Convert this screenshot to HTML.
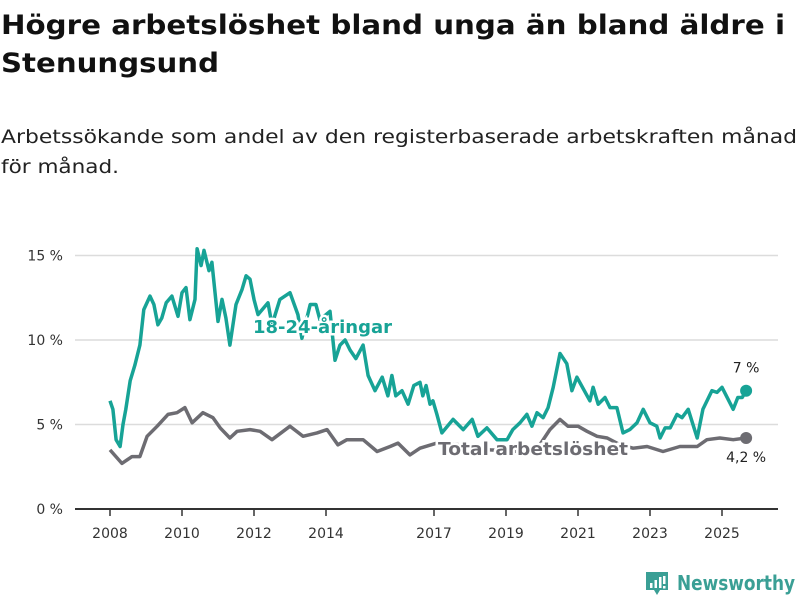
<!DOCTYPE html>
<html><head><meta charset="utf-8"><style>
html,body{margin:0;padding:0;background:#fff;width:800px;height:600px;overflow:hidden}
svg text{font-family:"DejaVu Sans","Liberation Sans",sans-serif}
</style></head><body>
<svg id="chart" width="800" height="600" viewBox="0 0 800 600" xmlns="http://www.w3.org/2000/svg">
<text x="1" y="34" font-size="27" font-weight="bold" fill="#111" textLength="784" lengthAdjust="spacingAndGlyphs">Högre arbetslöshet bland unga än bland äldre i</text>
<text x="1" y="72" font-size="27" font-weight="bold" fill="#111" textLength="218" lengthAdjust="spacingAndGlyphs">Stenungsund</text>
<text x="1" y="143" font-size="19" fill="#222" textLength="796" lengthAdjust="spacingAndGlyphs">Arbetssökande som andel av den registerbaserade arbetskraften månad</text>
<text x="1" y="173" font-size="19" fill="#222" textLength="118" lengthAdjust="spacingAndGlyphs">för månad.</text>
<g id="grid"></g>
<g id="xaxis"></g>
<g id="series"></g>
<g id="labels"></g>
<g>
<path d="M646 572h22v18h-8l-3 5-3-5h-8z" fill="#3a9f95"/>
<rect x="650" y="583" width="2.5" height="5" fill="#fff"/><rect x="654.5" y="580" width="2.5" height="8" fill="#fff"/><rect x="659" y="577" width="2.5" height="11" fill="#fff"/><rect x="663" y="576" width="2.5" height="8" fill="#fff"/><rect x="663" y="586" width="2.5" height="2.5" fill="#fff"/>
<text x="677" y="590" font-size="20" font-weight="bold" fill="#3a9f95" textLength="118" lengthAdjust="spacingAndGlyphs">Newsworthy</text>
</g>
</svg>
<script>
const yTicks = [0, 5, 10, 15];
const yTickLabels = ["0 %", "5 %", "10 %", "15 %"];
const xTicks = [2008, 2010, 2012, 2014, 2017, 2019, 2021, 2023, 2025];
const youthDates = [2008.00,2008.08,2008.17,2008.28,2008.36,2008.44,2008.56,2008.69,2008.83,2008.94,2009.11,2009.22,2009.33,2009.44,2009.56,2009.72,2009.89,2010.00,2010.11,2010.22,2010.36,2010.42,2010.53,2010.61,2010.75,2010.83,2011.00,2011.11,2011.22,2011.33,2011.50,2011.67,2011.78,2011.89,2012.00,2012.11,2012.39,2012.50,2012.72,2013.00,2013.22,2013.33,2013.56,2013.72,2013.83,2014.11,2014.25,2014.39,2014.53,2014.67,2014.83,2015.03,2015.17,2015.36,2015.56,2015.72,2015.83,2015.94,2016.11,2016.28,2016.44,2016.61,2016.69,2016.78,2016.89,2016.97,2017.08,2017.22,2017.53,2017.81,2018.06,2018.22,2018.47,2018.75,2019.03,2019.19,2019.39,2019.58,2019.72,2019.86,2020.03,2020.17,2020.31,2020.50,2020.69,2020.83,2020.97,2021.33,2021.42,2021.56,2021.75,2021.89,2022.08,2022.25,2022.44,2022.64,2022.81,2023.00,2023.19,2023.28,2023.42,2023.56,2023.75,2023.89,2024.06,2024.31,2024.47,2024.72,2024.86,2025.00,2025.31,2025.44,2025.56,2025.67];
const youthValues = [6.4,5.9,4.1,3.7,5.0,5.9,7.6,8.5,9.7,11.8,12.6,12.1,10.9,11.3,12.2,12.6,11.4,12.8,13.1,11.2,12.4,15.4,14.4,15.3,14.1,14.6,11.1,12.4,11.3,9.7,12.1,13.0,13.8,13.6,12.4,11.5,12.2,10.9,12.4,12.8,11.5,10.1,12.1,12.1,11.2,11.7,8.8,9.7,10.0,9.4,8.9,9.7,7.9,7.0,7.8,6.7,7.9,6.7,7.0,6.2,7.3,7.5,6.7,7.3,6.2,6.4,5.6,4.5,5.3,4.7,5.3,4.3,4.8,4.1,4.1,4.7,5.1,5.6,4.9,5.7,5.4,6.0,7.2,9.2,8.6,7.0,7.8,6.4,7.2,6.2,6.6,6.0,6.0,4.5,4.7,5.1,5.9,5.1,4.9,4.2,4.8,4.8,5.6,5.4,5.9,4.2,5.9,7.0,6.9,7.2,5.9,6.6,6.6,7.0];
const totalDates = [2008.00,2008.33,2008.61,2008.83,2009.03,2009.31,2009.61,2009.86,2010.08,2010.28,2010.58,2010.86,2011.06,2011.33,2011.53,2011.89,2012.17,2012.50,2013.00,2013.36,2013.75,2014.03,2014.33,2014.58,2015.03,2015.42,2015.78,2016.00,2016.33,2016.61,2017.08,2017.72,2018.56,2019.39,2019.94,2020.22,2020.50,2020.72,2021.00,2021.25,2021.53,2021.81,2022.17,2022.53,2022.92,2023.36,2023.83,2024.31,2024.58,2024.94,2025.31,2025.67];
const totalValues = [3.5,2.7,3.1,3.1,4.3,4.9,5.6,5.7,6.0,5.1,5.7,5.4,4.8,4.2,4.6,4.7,4.6,4.1,4.9,4.3,4.5,4.7,3.8,4.1,4.1,3.4,3.7,3.9,3.2,3.6,3.9,3.8,3.5,3.4,3.8,4.7,5.3,4.9,4.9,4.6,4.3,4.2,3.8,3.6,3.7,3.4,3.7,3.7,4.1,4.2,4.1,4.2];
const youthEndLabel = "7 %";
const totalEndLabel = "4,2 %";

const NS = "http://www.w3.org/2000/svg";
const X = d => 110 + (d - 2008) * 36;
const Y = v => 509 - v * 16.9;
function mk(tag, attrs, parent){const e=document.createElementNS(NS,tag);for(const k in attrs)e.setAttribute(k,attrs[k]);parent.appendChild(e);return e;}
const grid=document.getElementById('grid'), xa=document.getElementById('xaxis'), ser=document.getElementById('series'), lab=document.getElementById('labels');
yTicks.forEach((t,i)=>{
  if(t>0){const l=mk('line',{x1:75,x2:778,y1:Y(t),y2:Y(t),stroke:'#dcdcdc','stroke-width':1.5},grid);
  
  }
  const tx=mk('text',{x:63,y:Y(t)+5,'text-anchor':'end','font-size':14,fill:'#333'},grid);
  
  
  tx.textContent=yTickLabels[i];
});
const base=mk('line',{x1:75,x2:778,y1:509,y2:509,stroke:'#333','stroke-width':2},xa);


xTicks.forEach(t=>{
  const tk=mk('line',{x1:X(t),x2:X(t),y1:509,y2:516,stroke:'#333','stroke-width':1.5},xa);
  
  
  const tx=mk('text',{x:X(t),y:538,'text-anchor':'middle','font-size':14,fill:'#333'},xa);
  
  
  tx.textContent=t;
});
function line(dates,vals,color,name){
  const d=dates.map((t,i)=>(i?'L':'M')+X(t).toFixed(1)+' '+Y(vals[i]).toFixed(1)).join('');
  const p=mk('path',{d:d,fill:'none',stroke:color,'stroke-width':3.5,'stroke-linejoin':'round'},ser);
  
  
  const n=dates.length-1;
  const c=mk('circle',{cx:X(dates[n]),cy:Y(vals[n]),r:6,fill:color},ser);
  
  
}
line(totalDates,totalValues,'#6d6c72','total-line');
line(youthDates,youthValues,'#17a396','youth-line');
const yl=mk('text',{x:253,y:333,'font-size':18,'font-weight':'bold',fill:'#17a396',stroke:'#fff','stroke-width':5,'paint-order':'stroke','textLength':139,'lengthAdjust':'spacingAndGlyphs'},lab);


yl.textContent='18-24-åringar';
const tl=mk('text',{x:438,y:455,'font-size':18,'font-weight':'bold',fill:'#6d6c72',stroke:'#fff','stroke-width':5,'paint-order':'stroke','textLength':190,'lengthAdjust':'spacingAndGlyphs'},lab);


tl.textContent='Total arbetslöshet';
const ye=mk('text',{x:X(youthDates[youthDates.length-1]),y:Y(youthValues[youthValues.length-1])-18,'text-anchor':'middle','font-size':14,fill:'#222'},lab);


ye.textContent=youthEndLabel;
const te=mk('text',{x:X(totalDates[totalDates.length-1]),y:Y(totalValues[totalValues.length-1])+24,'text-anchor':'middle','font-size':14,fill:'#222'},lab);


te.textContent=totalEndLabel;
</script>
</body></html>
